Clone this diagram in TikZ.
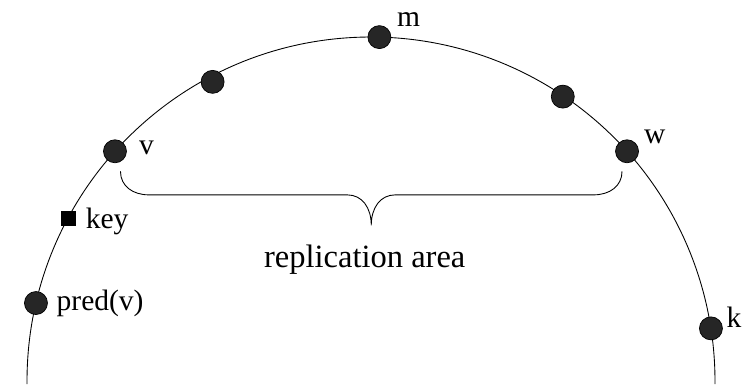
\documentclass[tikz,border=0pt]{standalone}
\usepackage{fontspec}
\setmainfont{Liberation Serif}
\usetikzlibrary{positioning,calc}

\begin{document}
\begin{tikzpicture}[
    peer/.style={draw, circle, fill=black!85, inner sep=0pt, minimum size=0.46cm},
    keybox/.style={draw, rectangle, fill=black, inner sep=0pt, minimum size=0.28cm},
    lbl/.style={inner sep=0pt, font=\fontsize{16.8}{20}\selectfont},
    ring/.style={line width=0.5pt}
]
\useasboundingbox (0,0) rectangle (14.96,7.68);
\coordinate (c) at (7.42,0.06);
% the ring
\draw[ring] ([shift={(180.5:6.88)}]c) arc[start angle=180.5, end angle=-0.5, radius=6.88];
% peers on the ring
\node[peer] (pred) at ([shift={(166.9:6.88)}]c) {};
\node[keybox] (key) at ([shift={(151.7:6.88)}]c) {};
\node[peer] (v) at ([shift={(138.1:6.88)}]c) {};
\node[peer] (p1) at ([shift={(117.9:6.77)}]c) {};
\node[peer] (m) at ([shift={(88.6:6.88)}]c) {};
\node[peer] (p2) at ([shift={(56.0:6.86)}]c) {};
\node[peer] (w) at ([shift={(41.9:6.88)}]c) {};
\node[peer] (k) at ([shift={(8.8:6.88)}]c) {};
% labels
\node[lbl, right=0.17cm of pred] (lpred) {pred(v)};
\node[lbl, right=0.2cm of key, yshift=-0.08cm] (lkey) {key};
\node[lbl, right=0.24cm of v, yshift=0.06cm] (lv) {v};
\node[lbl, right=0.11cm of m, yshift=0.35cm] (lm) {m};
\node[lbl, right=0.1cm of w, yshift=0.29cm] (lw) {w};
\node[lbl, right=0.07cm of k, yshift=0.23cm] (lk) {k};
% brace under the replication area
\coordinate (bl) at ([shift={(0.11,-0.4)}]v.center);
\coordinate (br) at ([shift={(-0.1,-0.4)}]w.center);
\coordinate (bt) at ($(bl)!0.5!(br)+(0,-1.08)$);
\draw[ring] (bl) .. controls +(0,-0.3) and +(-0.32,0) .. ($(bl)+(0.57,-0.472)$)
    -- ($(bt)+(-0.48,0.608)$) .. controls +(0.3,0) and +(0,0.35) .. (bt)
    .. controls +(0,0.35) and +(-0.3,0) .. ($(bt)+(0.48,0.608)$)
    -- ($(br)+(-0.57,-0.472)$) .. controls +(0.32,0) and +(0,-0.3) .. (br);
\node[lbl, font=\fontsize{18.5}{22}\selectfont, below=0.39cm of bt, xshift=-0.13cm] (area) {replication area};
\end{tikzpicture}
\end{document}
